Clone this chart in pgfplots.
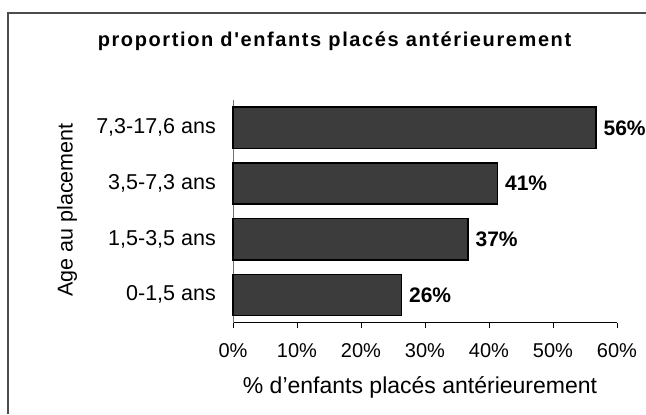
\documentclass[border=0pt]{standalone}
\usepackage{pgfplots}
\pgfplotsset{compat=1.18}
\usepackage{fontspec}
\setmainfont{Liberation Sans}
\newfontfamily\titlefont[LetterSpace=8]{Liberation Sans}
\definecolor{barfill}{RGB}{60,60,60}
\begin{document}
\begin{tikzpicture}[x=1bp,y=1bp]
\useasboundingbox (0,0) rectangle (646,414);
\draw[black!70, line width=1.5bp] (8,0) -- (8,401) -- (646,401);
\node[anchor=base, inner sep=0pt, font={\fontsize{20bp}{24bp}\titlefont\bfseries}] at (334.5,368) {proportion d'enfants placés antérieurement};
\begin{axis}[
  at={(233bp,91.3bp)}, anchor=south west,
  scale only axis, width=384bp, height=222.7bp,
  xmin=0, xmax=60, ymin=-0.5, ymax=3.5,
  axis x line*=bottom, axis y line*=left,
  axis line style={-},
  x axis line style={black, line width=0.8bp},
  y axis line style={black!55, line width=0.8bp},
  xtick={0,10,20,30,40,50,60},
  xticklabels={0\%,10\%,20\%,30\%,40\%,50\%,60\%},
  ytick={0,1,2,3},
  yticklabels={{0-1,5 ans},{1,5-3,5 ans},{3,5-7,3 ans},{7,3-17,6 ans}},
  tick align=outside, major tick length=5bp,
  ytick style={draw=none},
  xtick style={black, line width=0.8bp},
  tick label style={font=\fontsize{20bp}{24bp}\selectfont, inner sep=0pt},
  yticklabel style={anchor=east, xshift=-12bp, font=\fontsize{21.5bp}{25bp}\selectfont},
  xticklabel style={anchor=north, yshift=-16bp},
  xbar, bar width=0.74,
  point meta=explicit symbolic,
  nodes near coords={\pgfplotspointmeta\%},
  nodes near coords style={font=\bfseries\fontsize{21bp}{25bp}\selectfont, anchor=west, inner sep=0pt, xshift=7bp, black},
  clip=false,
]
\addplot[fill=barfill, draw=black, line width=1.5bp] table[x=x, y=y, meta=lab] {
x y lab
26.3 0 26
36.7 1 37
41.3 2 41
56.7 3 56
};
\end{axis}
\node[rotate=90, inner sep=0pt, font={\fontsize{21.5bp}{25bp}\selectfont}] at (67,204) {Age au placement};
\node[anchor=base, inner sep=0pt, font={\fontsize{23bp}{27bp}\selectfont}] at (420,21) {\% d'enfants placés antérieurement};
\end{tikzpicture}
\end{document}
